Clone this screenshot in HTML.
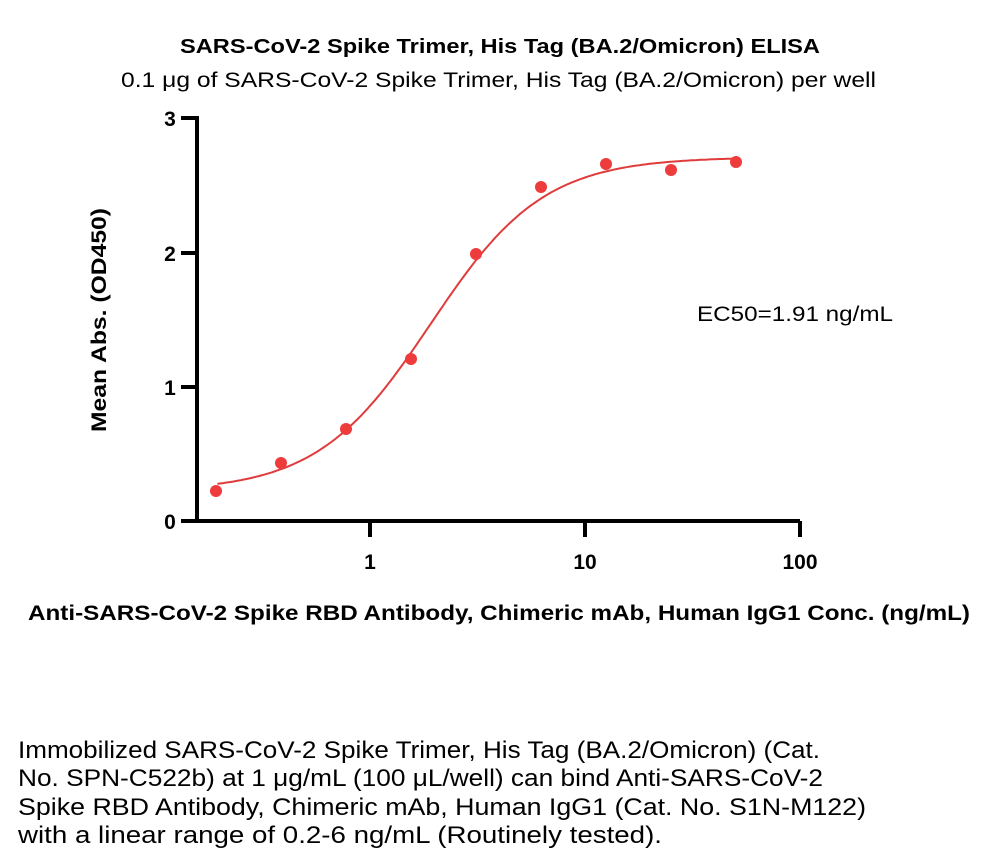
<!DOCTYPE html>
<html><head><meta charset="utf-8"><style>
html,body{margin:0;padding:0;background:#fff;}
svg{display:block;}
text{font-family:"Liberation Sans",sans-serif;fill:#000;}
.b{font-weight:bold;}
</style></head><body>
<svg id="s" width="1000" height="866" viewBox="0 0 1000 866" xmlns="http://www.w3.org/2000/svg">
<text class="b" x="180" y="53" font-size="20" textLength="640" lengthAdjust="spacingAndGlyphs">SARS-CoV-2 Spike Trimer, His Tag (BA.2/Omicron) ELISA</text>
<text x="121" y="87" font-size="21" textLength="755" lengthAdjust="spacingAndGlyphs">0.1 μg of SARS-CoV-2 Spike Trimer, His Tag (BA.2/Omicron) per well</text>
<text class="b" transform="translate(106,320) rotate(-90)" text-anchor="middle" font-size="21" textLength="224" lengthAdjust="spacingAndGlyphs">Mean Abs. (OD450)</text>
<g stroke="#000" stroke-width="4" fill="none">
<path d="M197,116 V523 M181,118 H197 M181,253 H197 M181,387 H197 M181,521 H800 M370,521 V537 M585,521 V537 M800,521 V537"/>
</g>
<g class="b" font-size="21" font-weight="bold" text-anchor="middle">
<text x="170" y="126">3</text><text x="170" y="261">2</text><text x="170" y="395">1</text><text x="170" y="529">0</text>
<text x="370" y="569">1</text><text x="585" y="569">10</text><text x="800" y="569">100</text>
</g>
<text class="b" x="28" y="620" font-size="21" textLength="942" lengthAdjust="spacingAndGlyphs">Anti-SARS-CoV-2 Spike RBD Antibody, Chimeric mAb, Human IgG1 Conc. (ng/mL)</text>
<text x="697" y="321" font-size="21" textLength="196" lengthAdjust="spacingAndGlyphs">EC50=1.91 ng/mL</text>
<path id="curve" fill="none" stroke="#e03c3c" stroke-width="2" d=""/>
<g fill="#ee3b3b">
<circle cx="216" cy="491" r="6"/><circle cx="281" cy="463" r="6"/><circle cx="346" cy="429" r="6"/>
<circle cx="411" cy="359" r="6"/><circle cx="476" cy="254" r="6"/><circle cx="541" cy="187" r="6"/>
<circle cx="606" cy="164" r="6"/><circle cx="671" cy="170" r="6"/><circle cx="736" cy="162" r="6"/>
</g>
<g font-size="24">
<text x="18" y="758" textLength="802" lengthAdjust="spacingAndGlyphs">Immobilized SARS-CoV-2 Spike Trimer, His Tag (BA.2/Omicron) (Cat.</text>
<text x="18" y="786" textLength="805" lengthAdjust="spacingAndGlyphs">No. SPN-C522b) at 1 μg/mL (100 μL/well) can bind Anti-SARS-CoV-2</text>
<text x="18" y="815" textLength="848" lengthAdjust="spacingAndGlyphs">Spike RBD Antibody, Chimeric mAb, Human IgG1 (Cat. No. S1N-M122)</text>
<text x="18" y="843" textLength="644" lengthAdjust="spacingAndGlyphs">with a linear range of 0.2-6 ng/mL (Routinely tested).</text>
</g>
</svg>
<script>
(function(){
var b=0.22,t=2.71,e=1.91,h=1.65,d="";
for(var i=0;i<=200;i++){
var lx=Math.log10(0.195)+i/200*(Math.log10(50)-Math.log10(0.195));
var x=Math.pow(10,lx);
var y=b+(t-b)/(1+Math.pow(e/x,h));
var px=370+215*lx, py=521-134.3*y;
d+=(i?"L":"M")+px.toFixed(1)+","+py.toFixed(1);
}
document.getElementById("curve").setAttribute("d",d);
})();
</script>
</body></html>
